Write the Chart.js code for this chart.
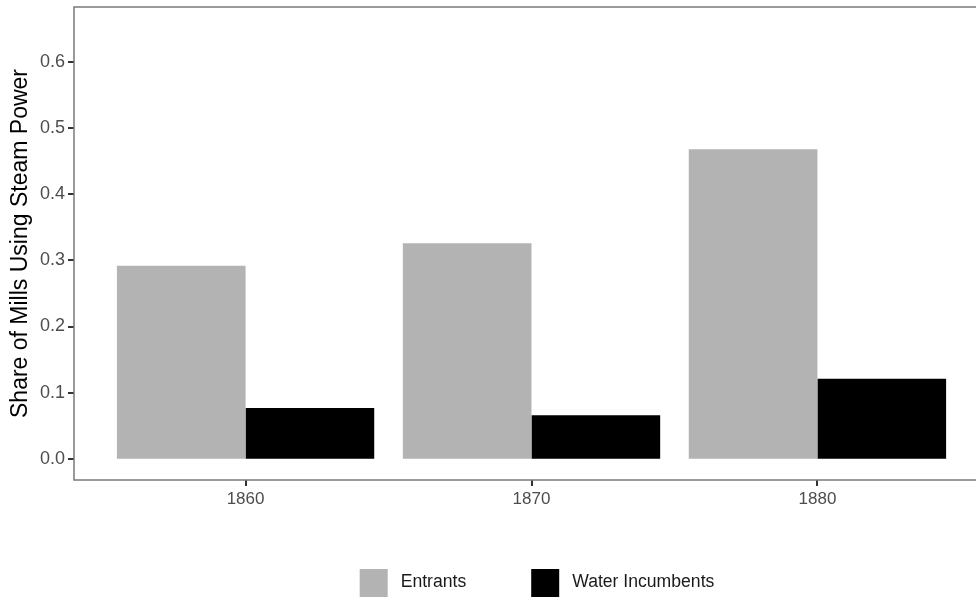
<!DOCTYPE html>
<html lang="en">
<head>
  <meta charset="UTF-8">
  <title>Share of Mills Using Steam Power</title>
  <script src="https://cdn.jsdelivr.net/npm/chart.js"></script>
  <style>
    html, body { margin: 0; padding: 0; background: #fff; overflow: hidden; }
    #wrap { width: 976px; height: 597px; overflow: hidden; }
    canvas { display: block; }
  </style>
</head>
<body>
  <div id="wrap">
    <canvas id="chart" width="1000" height="600"></canvas>
  </div>
  <script>
    const years = ['1860', '1870', '1880'];
    const entrants = [0.292, 0.326, 0.468];
    const waterIncumbents = [0.077, 0.066, 0.121];
    const yTicks = [0.0, 0.1, 0.2, 0.3, 0.4, 0.5, 0.6];

    const FONT = '"Liberation Sans", Arial, Helvetica, sans-serif';
    const TICK_LEN = 5;

    // panel frame (theme_bw border) plus outward tick marks
    const framePlugin = {
      id: 'frame',
      afterDraw(chart) {
        const a = chart.chartArea, ctx = chart.ctx;
        const xs = chart.scales.x, ys = chart.scales.y;
        ctx.save();
        ctx.fillStyle = '#333333';
        xs.ticks.forEach(t => {
          const px = Math.round(xs.getPixelForValue(t.value));
          ctx.fillRect(px - 1, a.bottom, 2, TICK_LEN + 1);
        });
        ys.ticks.forEach(t => {
          const py = Math.round(ys.getPixelForValue(t.value));
          ctx.fillRect(a.left - TICK_LEN - 1, py - 1, TICK_LEN + 1, 2);
        });
        ctx.strokeStyle = '#7a7a7a';
        ctx.lineWidth = 1.5;
        ctx.strokeRect(a.left, a.top, a.right - a.left, a.bottom - a.top);
        ctx.restore();
      }
    };

    // bottom legend, centred like ggplot
    const legendPlugin = {
      id: 'ggLegend',
      afterDraw(chart) {
        const ctx = chart.ctx;
        const box = 28, gapText = 13, gapItem = 65;
        ctx.save();
        ctx.font = '17.6px ' + FONT;
        const items = chart.data.datasets.map(ds => ({ label: ds.label, color: ds.backgroundColor, w: ctx.measureText(ds.label).width }));
        let total = 0;
        items.forEach((it, i) => { total += box + gapText + it.w + (i ? gapItem : 0); });
        let x = 537 - total / 2;
        const top = 569;
        items.forEach((it, i) => {
          if (i) x += gapItem;
          ctx.fillStyle = it.color;
          ctx.fillRect(x, top, box, box);
          ctx.fillStyle = '#1a1a1a';
          ctx.textBaseline = 'middle';
          ctx.fillText(it.label, x + box + gapText, top + box / 2 - 1);
          x += box + gapText + it.w;
        });
        ctx.restore();
      }
    };

    new Chart(document.getElementById('chart'), {
      type: 'bar',
      data: {
        datasets: [
          { label: 'Entrants', data: entrants.map((v, i) => ({ x: i + 1, y: v })), backgroundColor: '#b3b3b3' },
          { label: 'Water Incumbents', data: waterIncumbents.map((v, i) => ({ x: i + 1, y: v })), backgroundColor: '#000000' }
        ]
      },
      options: {
        responsive: false,
        animation: false,
        devicePixelRatio: 1,
        layout: { padding: { left: 0, top: 7, right: 11, bottom: 0 } },
        datasets: { bar: { categoryPercentage: 0.9, barPercentage: 1.0, borderWidth: 0 } },
        plugins: { legend: { display: false }, tooltip: { enabled: false } },
        scales: {
          x: {
            type: 'linear',
            min: 0.4,
            max: 3.6,
            offset: false,
            afterBuildTicks: s => { s.ticks = years.map((y, i) => ({ value: i + 1 })); },
            afterFit: s => { s.height = 120; s.paddingLeft = 0; s.paddingRight = 0; },
            border: { display: false },
            grid: { display: false, drawTicks: false },
            ticks: {
              color: '#4d4d4d',
              font: { family: FONT, size: 17 },
              padding: TICK_LEN + 4,
              maxRotation: 0,
              callback: v => years[v - 1]
            }
          },
          y: {
            min: -0.032,
            max: 0.683,
            afterBuildTicks: s => { s.ticks = yTicks.map(v => ({ value: v })); },
            afterFit: s => { s.width = 74; s.paddingTop = 0; s.paddingBottom = 0; },
            border: { display: false },
            grid: { display: false, drawTicks: false },
            ticks: {
              color: '#4d4d4d',
              font: { family: FONT, size: 18 },
              padding: TICK_LEN + 4,
              callback: v => Number(v).toFixed(1)
            },
            title: {
              display: true,
              text: 'Share of Mills Using Steam Power',
              color: '#000000',
              font: { family: FONT, size: 23 },
              padding: { top: 7, bottom: 0 }
            }
          }
        }
      },
      plugins: [framePlugin, legendPlugin]
    });
  </script>
</body>
</html>
